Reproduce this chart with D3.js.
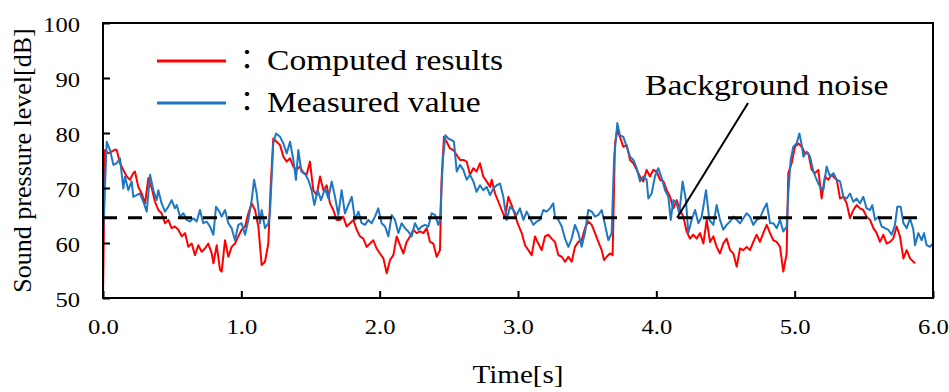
<!DOCTYPE html>
<html>
<head>
<meta charset="utf-8">
<script src="https://cdn.jsdelivr.net/npm/d3@7"></script>
<style>
  body { margin: 0; background: #fff; }
  svg { display: block; }
  text { font-family: "Liberation Serif", "Times New Roman", serif; fill: #000; }
</style>
</head>
<body>
<div id="chart"></div>
<script>
// time [s], sound pressure level [dB]
const computed = [
  [0.000,50.0],[0.014,76.9],[0.039,76.3],[0.063,76.6],[0.087,77.0],[0.099,76.9],[0.123,74.5],[0.147,73.3],[0.171,72.1],[0.195,71.5],
  [0.219,72.7],[0.231,73.0],[0.255,70.2],[0.280,69.0],[0.304,67.2],[0.328,71.8],[0.352,70.0],[0.376,67.5],[0.400,66.0],[0.424,65.4],
  [0.448,63.6],[0.472,64.2],[0.496,62.7],[0.520,63.0],[0.545,62.4],[0.569,61.2],[0.593,61.8],[0.617,59.3],[0.641,59.9],[0.665,57.8],
  [0.689,59.6],[0.713,58.4],[0.737,59.0],[0.761,59.9],[0.786,58.1],[0.798,56.3],[0.822,59.6],[0.846,55.1],[0.858,54.8],[0.882,60.5],
  [0.906,57.5],[0.930,59.3],[0.954,59.9],[0.978,61.2],[1.002,62.4],[1.027,63.0],[1.051,65.4],[1.075,67.2],[1.099,66.0],[1.123,63.0],
  [1.147,56.0],[1.171,56.6],[1.195,59.9],[1.212,70.2],[1.231,79.0],[1.255,78.4],[1.280,77.8],[1.304,75.7],[1.328,74.8],[1.352,75.4],
  [1.376,73.9],[1.400,73.3],[1.424,73.9],[1.448,72.7],[1.472,72.4],[1.496,74.8],[1.520,69.6],[1.545,68.7],[1.569,72.1],[1.593,69.6],
  [1.617,70.5],[1.641,67.2],[1.665,66.0],[1.689,64.2],[1.713,64.2],[1.737,64.8],[1.761,63.0],[1.786,63.6],[1.810,64.2],[1.834,62.4],
  [1.858,61.2],[1.882,60.8],[1.906,59.3],[1.930,59.9],[1.954,60.5],[1.978,59.0],[2.002,58.1],[2.027,57.2],[2.051,54.5],[2.075,56.9],
  [2.099,57.8],[2.123,61.2],[2.147,59.6],[2.171,58.1],[2.195,60.2],[2.219,61.2],[2.243,62.4],[2.267,61.8],[2.292,62.1],[2.316,61.8],
  [2.340,62.7],[2.364,60.2],[2.388,59.9],[2.412,57.5],[2.436,58.7],[2.448,71.8],[2.465,79.3],[2.484,78.4],[2.508,77.2],[2.533,76.9],
  [2.557,76.0],[2.581,75.1],[2.605,75.1],[2.629,74.8],[2.653,72.4],[2.677,73.6],[2.701,73.0],[2.725,74.5],[2.749,72.1],[2.773,71.2],
  [2.798,70.2],[2.810,71.5],[2.834,69.0],[2.858,67.5],[2.882,66.0],[2.906,64.5],[2.930,68.4],[2.954,66.9],[2.978,65.1],[3.002,63.3],
  [3.027,61.8],[3.051,59.6],[3.075,58.7],[3.099,57.8],[3.123,61.2],[3.147,59.9],[3.171,58.7],[3.195,61.2],[3.219,61.5],[3.243,60.8],
  [3.267,60.2],[3.292,57.8],[3.316,57.5],[3.340,56.6],[3.364,57.5],[3.388,56.6],[3.412,59.3],[3.436,60.2],[3.460,60.5],[3.484,62.7],
  [3.508,63.9],[3.533,63.3],[3.557,61.8],[3.581,60.2],[3.605,58.7],[3.622,56.9],[3.641,57.5],[3.665,58.1],[3.684,57.8],[3.701,78.1],
  [3.718,80.5],[3.737,79.3],[3.761,77.5],[3.786,77.8],[3.810,75.1],[3.834,74.5],[3.858,73.3],[3.882,72.1],[3.906,71.2],[3.930,73.3],
  [3.954,72.1],[3.978,73.3],[4.002,73.0],[4.027,71.5],[4.051,71.2],[4.075,69.6],[4.099,68.4],[4.123,66.3],[4.147,67.8],[4.171,66.0],
  [4.195,64.8],[4.219,62.1],[4.243,60.8],[4.267,61.5],[4.292,60.8],[4.316,61.8],[4.340,59.9],[4.364,64.2],[4.388,60.2],[4.412,61.2],
  [4.436,59.3],[4.460,58.1],[4.484,59.9],[4.508,60.8],[4.533,58.7],[4.557,58.1],[4.581,55.7],[4.605,59.0],[4.629,58.7],[4.653,59.3],
  [4.677,58.7],[4.701,60.2],[4.725,61.5],[4.749,60.2],[4.773,61.8],[4.798,63.3],[4.822,61.8],[4.846,60.5],[4.870,60.2],[4.894,59.3],
  [4.918,54.8],[4.942,58.1],[4.954,72.7],[4.978,74.5],[5.002,77.5],[5.027,78.1],[5.051,77.5],[5.075,76.3],[5.099,76.3],[5.123,73.3],
  [5.147,72.7],[5.171,73.3],[5.195,68.1],[5.219,72.1],[5.243,71.5],[5.267,72.4],[5.304,71.5],[5.328,68.1],[5.352,68.4],[5.376,67.2],
  [5.400,64.5],[5.424,66.0],[5.448,66.9],[5.472,66.3],[5.496,66.0],[5.520,64.8],[5.545,64.2],[5.569,62.7],[5.593,61.8],[5.617,60.2],
  [5.641,61.5],[5.665,59.9],[5.689,60.2],[5.713,60.8],[5.737,63.0],[5.761,61.2],[5.786,57.2],[5.810,58.7],[5.834,57.2],[5.858,56.6],
  [5.870,56.3]
];

const measured = [
  [0.000,61.2],[0.027,78.4],[0.051,76.9],[0.075,74.2],[0.099,74.5],[0.123,75.4],[0.147,69.9],[0.159,72.1],[0.183,69.6],[0.207,71.2],
  [0.219,68.4],[0.243,68.7],[0.267,69.0],[0.292,67.5],[0.316,65.7],[0.340,72.4],[0.364,69.6],[0.388,67.8],[0.400,69.6],[0.424,67.2],
  [0.448,65.7],[0.472,66.6],[0.496,67.8],[0.520,66.3],[0.533,66.9],[0.557,64.8],[0.581,65.4],[0.605,64.2],[0.629,63.9],[0.653,64.5],
  [0.677,63.9],[0.701,66.0],[0.725,63.6],[0.749,63.9],[0.773,63.0],[0.798,61.5],[0.817,66.6],[0.841,65.7],[0.858,64.8],[0.882,66.0],
  [0.906,63.6],[0.930,62.7],[0.954,60.5],[0.978,63.3],[1.002,63.6],[1.027,61.5],[1.051,64.2],[1.075,67.8],[1.092,71.5],[1.111,69.0],
  [1.135,63.6],[1.147,66.0],[1.171,62.7],[1.195,63.6],[1.207,65.4],[1.231,78.1],[1.251,79.9],[1.280,79.3],[1.304,78.1],[1.328,76.3],
  [1.352,78.4],[1.376,75.1],[1.395,71.5],[1.412,76.9],[1.434,73.0],[1.458,72.7],[1.484,71.5],[1.508,69.6],[1.528,66.9],[1.552,69.6],
  [1.576,67.8],[1.605,69.9],[1.629,68.1],[1.653,71.2],[1.677,68.4],[1.701,65.1],[1.725,69.6],[1.749,65.4],[1.773,66.9],[1.798,68.4],
  [1.822,64.2],[1.846,65.7],[1.870,63.6],[1.894,63.3],[1.918,64.2],[1.942,63.6],[1.966,64.8],[1.990,66.3],[2.014,63.6],[2.039,63.0],
  [2.063,61.2],[2.087,65.1],[2.111,64.2],[2.135,61.8],[2.159,63.6],[2.183,62.7],[2.207,62.1],[2.231,61.2],[2.255,63.6],[2.280,62.4],
  [2.304,63.0],[2.328,63.3],[2.352,63.0],[2.376,65.4],[2.400,65.1],[2.424,63.3],[2.436,64.2],[2.457,75.1],[2.475,79.6],[2.496,79.0],
  [2.520,78.7],[2.537,78.4],[2.557,73.0],[2.581,74.2],[2.605,73.3],[2.629,71.5],[2.653,72.4],[2.677,71.2],[2.701,69.3],[2.725,70.5],
  [2.749,69.6],[2.773,70.2],[2.798,68.7],[2.822,69.9],[2.846,70.5],[2.870,70.8],[2.894,68.4],[2.918,64.2],[2.942,66.6],[2.966,66.0],
  [2.990,65.1],[3.014,66.3],[3.039,64.2],[3.063,65.7],[3.087,64.5],[3.111,63.3],[3.135,63.9],[3.159,64.2],[3.183,66.0],[3.207,65.7],
  [3.231,66.3],[3.255,67.2],[3.267,64.8],[3.292,64.2],[3.316,63.0],[3.340,60.8],[3.364,59.3],[3.388,60.8],[3.412,63.3],[3.436,61.8],
  [3.460,59.3],[3.484,61.8],[3.508,66.0],[3.533,65.7],[3.557,64.8],[3.581,65.1],[3.605,66.0],[3.629,63.3],[3.653,60.5],[3.677,61.8],
  [3.694,75.1],[3.718,81.8],[3.737,79.6],[3.761,79.3],[3.786,77.5],[3.810,75.7],[3.834,75.1],[3.858,73.6],[3.882,71.2],[3.906,72.1],
  [3.930,71.5],[3.942,68.1],[3.966,69.0],[3.990,72.1],[4.014,73.6],[4.039,71.8],[4.063,69.6],[4.087,68.4],[4.104,64.2],[4.123,67.8],
  [4.147,67.2],[4.166,65.4],[4.190,71.2],[4.214,67.8],[4.231,61.8],[4.255,64.2],[4.280,66.0],[4.304,63.6],[4.328,64.8],[4.359,69.6],
  [4.383,64.2],[4.412,63.3],[4.436,66.9],[4.460,64.2],[4.484,62.4],[4.508,63.3],[4.533,63.9],[4.557,64.8],[4.581,64.2],[4.605,63.6],
  [4.629,64.5],[4.653,65.4],[4.677,64.8],[4.701,63.3],[4.725,64.2],[4.749,64.5],[4.773,66.0],[4.798,67.2],[4.822,63.6],[4.846,63.6],
  [4.870,62.7],[4.894,64.2],[4.918,62.1],[4.942,63.0],[4.954,69.0],[4.971,75.1],[4.990,77.5],[5.014,78.1],[5.034,79.9],[5.051,77.8],
  [5.063,75.7],[5.087,76.6],[5.111,75.7],[5.135,73.0],[5.159,71.5],[5.183,70.2],[5.207,69.6],[5.231,73.9],[5.255,72.1],[5.280,72.7],
  [5.304,71.5],[5.328,71.2],[5.352,68.4],[5.376,68.1],[5.400,69.0],[5.424,67.5],[5.448,68.1],[5.472,67.2],[5.496,68.4],[5.520,66.3],
  [5.545,66.0],[5.561,66.9],[5.581,64.2],[5.605,64.8],[5.629,63.0],[5.653,62.7],[5.677,62.4],[5.701,61.5],[5.725,63.3],[5.742,66.6],
  [5.766,66.6],[5.786,63.6],[5.810,62.7],[5.834,64.5],[5.858,62.4],[5.870,59.6],[5.894,61.8],[5.918,60.5],[5.935,61.8],[5.954,59.6],
  [5.978,59.3],[5.998,59.9]
];

const backgroundNoise = 64.6;
const xTicks = [0, 1, 2, 3, 4, 5, 6];
const yTicks = [50, 60, 70, 80, 90, 100];
const seriesNames = ['Computed results', 'Measured value'];
const seriesColors = ['#ff0000', '#1f77c2'];
// annotation: text anchor point and arrow line ends, in data units
const noteLabel = 'Background noise';
const notePos = [3.918, 86.9];
const noteLine = [[4.663, 85.45], [4.15, 64.6]];

const width = 949, height = 392;
const margin = { top: 23, right: 16, bottom: 94, left: 103 };
const SX = 1.12; // source image text is a bit wide

const svg = d3.select('#chart').append('svg')
  .attr('width', width)
  .attr('height', height);

const x = d3.scaleLinear().domain([0, 6]).range([margin.left, width - margin.right]);
const y = d3.scaleLinear().domain([50, 100]).range([height - margin.bottom, margin.top]);

const line = d3.line().x(d => x(d[0])).y(d => y(d[1]));

// series (red under blue)
svg.append('path')
  .datum(computed)
  .attr('fill', 'none')
  .attr('stroke', seriesColors[0])
  .attr('stroke-width', 2)
  .attr('stroke-linejoin', 'round')
  .attr('d', line);

svg.append('path')
  .datum(measured)
  .attr('fill', 'none')
  .attr('stroke', seriesColors[1])
  .attr('stroke-width', 2)
  .attr('stroke-linejoin', 'round')
  .attr('d', line);

// background noise level
svg.append('line')
  .attr('x1', x(0)).attr('x2', x(5.96))
  .attr('y1', y(backgroundNoise)).attr('y2', y(backgroundNoise))
  .attr('stroke', '#000')
  .attr('stroke-width', 3)
  .attr('stroke-dasharray', '14,11');

// axes, ticks point inward
const xAxis = svg.append('g')
  .attr('transform', `translate(0,${y(50)})`)
  .call(d3.axisBottom(x).tickValues(xTicks).tickSizeInner(-7).tickSizeOuter(0).tickFormat(d3.format('.1f')));

xAxis.selectAll('text')
  .attr('y', 36)
  .attr('dy', null)
  .attr('transform', `scale(${SX},1)`)
  .style('font-size', '22px');

const yAxis = svg.append('g')
  .attr('transform', `translate(${x(0)},0)`)
  .call(d3.axisLeft(y).tickValues(yTicks).tickSizeInner(-7).tickSizeOuter(0));

yAxis.selectAll('text')
  .attr('x', -23 / SX)
  .attr('dy', null)
  .attr('y', 8)
  .attr('transform', `scale(${SX},1)`)
  .style('font-size', '22px');

svg.selectAll('.domain').remove();
svg.selectAll('.tick line').attr('stroke', '#000').attr('stroke-width', 2);

// frame
svg.append('rect')
  .attr('x', x(0)).attr('y', y(100))
  .attr('width', x(6) - x(0)).attr('height', y(50) - y(100))
  .attr('fill', 'none')
  .attr('stroke', '#000')
  .attr('stroke-width', 2);

// axis titles
svg.append('text')
  .attr('transform', `translate(${(x(0) + x(6)) / 2},383) scale(${SX},1)`)
  .attr('text-anchor', 'middle')
  .style('font-size', '26px')
  .text('Time[s]');

svg.append('text')
  .attr('transform', `translate(31,${(y(50) + y(100)) / 2}) rotate(-90)`)
  .attr('text-anchor', 'middle')
  .style('font-size', '26px')
  .text('Sound pressure level[dB]');

// legend
const legend = svg.append('g');
seriesNames.forEach((name, i) => {
  const ly = 61 + i * 42;
  legend.append('line')
    .attr('x1', 157).attr('x2', 226)
    .attr('y1', ly).attr('y2', ly)
    .attr('stroke', seriesColors[i])
    .attr('stroke-width', 3);
  legend.append('text')
    .attr('x', 247).attr('y', ly + 9)
    .attr('text-anchor', 'middle')
    .style('font-family', '"Noto Sans CJK JP", sans-serif')
    .style('font-size', '28px')
    .text('：');
  legend.append('text')
    .attr('transform', `translate(267,${ly + 9}) scale(${SX},1)`)
    .style('font-size', '30px')
    .text(name);
});

// annotation
svg.append('line')
  .attr('x1', x(noteLine[0][0])).attr('y1', y(noteLine[0][1]))
  .attr('x2', x(noteLine[1][0])).attr('y2', y(noteLine[1][1]))
  .attr('stroke', '#000')
  .attr('stroke-width', 2);

svg.append('text')
  .attr('transform', `translate(${x(notePos[0])},${y(notePos[1])}) scale(${SX},1)`)
  .style('font-size', '30px')
  .text(noteLabel);
</script>
</body>
</html>
